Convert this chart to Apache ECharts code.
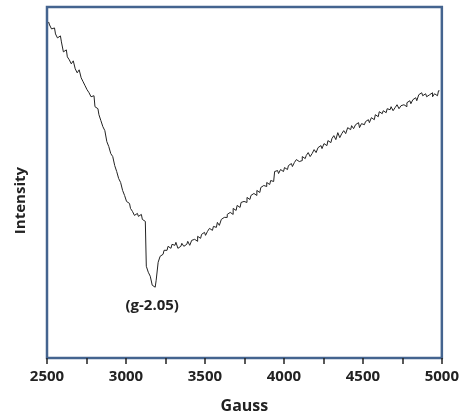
<!DOCTYPE html>
<html>
<head>
<meta charset="utf-8">
<script src="https://cdn.jsdelivr.net/npm/echarts@6/dist/echarts.min.js"></script>
<style>
  html, body { margin: 0; padding: 0; background: #fff; }
  #chart { width: 462px; height: 419px; }
</style>
</head>
<body>
<div id="chart"></div>
<script>
// field (G) and signal (a.u.), 12.5 G apart
const gauss = [
  2510, 2522.5, 2535, 2547.5, 2560, 2572.5, 2585, 2597.5, 2610, 2622.5,
  2635, 2647.5, 2660, 2672.5, 2685, 2697.5, 2710, 2722.5, 2735, 2747.5,
  2760, 2772.5, 2785, 2797.5, 2810, 2822.5, 2835, 2847.5, 2860, 2872.5,
  2885, 2897.5, 2910, 2922.5, 2935, 2947.5, 2960, 2972.5, 2985, 2997.5,
  3010, 3022.5, 3035, 3047.5, 3060, 3072.5, 3085, 3097.5, 3110, 3122.5,
  3135, 3147.5, 3160, 3172.5, 3185, 3197.5, 3210, 3222.5, 3235, 3247.5,
  3260, 3272.5, 3285, 3297.5, 3310, 3322.5, 3335, 3347.5, 3360, 3372.5,
  3385, 3397.5, 3410, 3422.5, 3435, 3447.5, 3460, 3472.5, 3485, 3497.5,
  3510, 3522.5, 3535, 3547.5, 3560, 3572.5, 3585, 3597.5, 3610, 3622.5,
  3635, 3647.5, 3660, 3672.5, 3685, 3697.5, 3710, 3722.5, 3735, 3747.5,
  3760, 3772.5, 3785, 3797.5, 3810, 3822.5, 3835, 3847.5, 3860, 3872.5,
  3885, 3897.5, 3910, 3922.5, 3935, 3947.5, 3960, 3972.5, 3985, 3997.5,
  4010, 4022.5, 4035, 4047.5, 4060, 4072.5, 4085, 4097.5, 4110, 4122.5,
  4135, 4147.5, 4160, 4172.5, 4185, 4197.5, 4210, 4222.5, 4235, 4247.5,
  4260, 4272.5, 4285, 4297.5, 4310, 4322.5, 4335, 4347.5, 4360, 4372.5,
  4385, 4397.5, 4410, 4422.5, 4435, 4447.5, 4460, 4472.5, 4485, 4497.5,
  4510, 4522.5, 4535, 4547.5, 4560, 4572.5, 4585, 4597.5, 4610, 4622.5,
  4635, 4647.5, 4660, 4672.5, 4685, 4697.5, 4710, 4722.5, 4735, 4747.5,
  4760, 4772.5, 4785, 4797.5, 4810, 4822.5, 4835, 4847.5, 4860, 4872.5,
  4885, 4897.5, 4910, 4922.5, 4935, 4947.5, 4960, 4972.5, 4985
];
const intensity = [
  337, 334, 330, 331, 325, 321, 323, 317, 307, 309,
  302, 299, 295, 298, 290, 286, 289, 281, 277, 273,
  269, 266, 262, 263, 252, 250, 244, 238, 232, 228,
  217, 212, 205, 202, 193, 187, 180, 176, 168, 163,
  157, 155, 150, 147, 143, 145, 142, 144, 139, 137,
  92, 86, 82, 73, 71, 78, 96, 102, 104, 108,
  108, 112, 110, 114, 113, 116, 110, 112, 115, 112,
  114, 117, 113, 118, 119, 117, 122, 120, 124, 126,
  123, 127, 130, 128, 132, 131, 136, 133, 139, 141,
  141, 144, 146, 144, 150, 148, 153, 151, 156, 157,
  156, 161, 159, 163, 165, 163, 168, 166, 171, 173,
  172, 176, 174, 178, 177, 187, 188, 185, 189, 187,
  191, 189, 193, 195, 192, 196, 199, 197, 198, 202,
  200, 203, 206, 202, 205, 209, 206, 211, 213, 210,
  215, 213, 218, 216, 220, 223, 219, 226, 221, 225,
  228, 225, 231, 229, 233, 230, 234, 236, 231, 235,
  234, 237, 239, 236, 241, 239, 244, 242, 247, 245,
  248, 246, 250, 249, 252, 248, 251, 254, 250, 253,
  254, 252, 256, 258, 255, 259, 261, 258, 264, 266,
  263, 265, 262, 264, 266, 262, 265, 263, 268
];
const xTicks = { min: 2500, max: 5000, step: 500 };
const peakLabel = '(g-2.05)';
const peakIndex = 54;

const font = '"Open Sans", "DejaVu Sans", sans-serif';
const chart = echarts.init(document.getElementById('chart'));

chart.setOption({
  animation: false,
  grid: {
    left: 47, top: 7, right: 17, bottom: 60,
    show: true, borderColor: '#44648f', borderWidth: 2.5, backgroundColor: 'transparent'
  },
  xAxis: {
    type: 'value',
    min: xTicks.min, max: xTicks.max, interval: xTicks.step,
    name: 'Gauss',
    nameLocation: 'middle',
    nameGap: 40,
    nameTextStyle: { fontFamily: font, fontWeight: 'bold', fontSize: 16, color: '#222' },
    axisLine: { show: false },
    axisTick: { show: true, inside: false, length: 6, lineStyle: { color: '#222', width: 1.5 } },
    minorTick: { show: true, splitNumber: 2, length: 6, lineStyle: { color: '#222', width: 1.5 } },
    splitLine: { show: false },
    axisLabel: {
      margin: 11, fontFamily: font, fontWeight: 'bold', fontSize: 15, color: '#222',
      formatter: (v) => String(v)
    }
  },
  yAxis: {
    type: 'value',
    min: 0, max: 352,
    axisLine: { show: false },
    axisTick: { show: false },
    splitLine: { show: false },
    axisLabel: { show: false }
  },
  graphic: [{
    type: 'text',
    left: 13, top: 167,
    rotation: Math.PI / 2,
    style: { text: 'Intensity', fontFamily: font, fontWeight: 'bold', fontSize: 15, fill: '#222' }
  }],
  series: [{
    type: 'line',
    step: 'middle',
    data: gauss.map((g, i) => [g, intensity[i]]),
    symbol: 'none',
    lineStyle: { color: '#222', width: 1 },
    markPoint: {
      symbol: 'circle',
      symbolSize: 0,
      data: [{ coord: [gauss[peakIndex], intensity[peakIndex]] }],
      label: {
        show: true, position: 'inside', offset: [-3, 19],
        formatter: peakLabel,
        fontFamily: font, fontWeight: 'bold', fontSize: 15, color: '#222'
      }
    }
  }]
});
</script>
</body>
</html>
